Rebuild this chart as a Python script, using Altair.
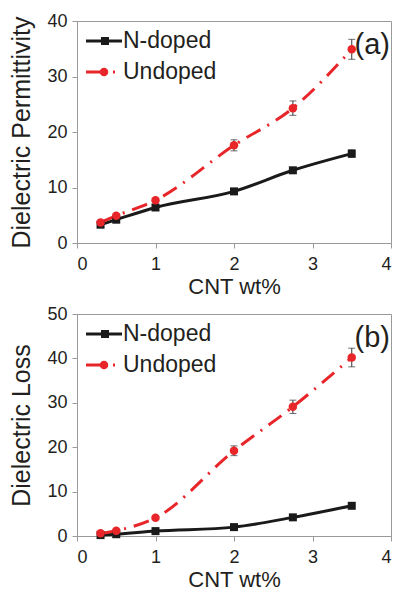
import altair as alt
import pandas as pd

# ---- data ----
cnt_wt = [0.3, 0.5, 1.0, 2.0, 2.75, 3.5]
series_names = ["N-doped", "Undoped"]
panel_tags = ["(a)", "(b)"]
y_titles = ["Dielectric Permittivity", "Dielectric Loss"]
x_ticks = [0, 1, 2, 3, 4]

perm_ndoped = [3.3, 4.2, 6.4, 9.3, 13.1, 16.1]
perm_ndoped_err = [0.2, 0.2, 0.3, 0.3, 0.5, 0.7]
perm_undoped = [3.7, 4.9, 7.7, 17.6, 24.3, 34.9]
perm_undoped_err = [0.2, 0.3, 0.3, 1.0, 1.3, 1.8]

loss_ndoped = [0.2, 0.4, 1.1, 2.0, 4.2, 6.8]
loss_ndoped_err = [0.1, 0.1, 0.1, 0.2, 0.3, 0.4]
loss_undoped = [0.6, 1.2, 4.1, 19.2, 29.1, 40.2]
loss_undoped_err = [0.1, 0.1, 0.2, 1.1, 1.5, 2.1]

RED = "#e8262a"
BLACK = "#1a1a1a"
GRAY = "#9a9a9a"
TEXT = "#231f20"
FONT = "Liberation Sans"
W, H = 314, 222
DASH = [16, 8, 2, 8]


def panel(n_vals, n_err, u_vals, u_err, ymax, ytitle, tag):
    df = pd.DataFrame({
        "x": cnt_wt * 2,
        "y": n_vals + u_vals,
        "err": n_err + u_err,
        "series": [series_names[0]] * len(cnt_wt) + [series_names[1]] * len(cnt_wt),
    })
    df["lo"] = df["y"] - df["err"]
    df["hi"] = df["y"] + df["err"]
    dn = df[df.series == series_names[0]]
    du = df[df.series == series_names[1]]

    xenc = alt.X("x:Q", scale=alt.Scale(domain=[0, 4], nice=False),
                 axis=alt.Axis(values=x_ticks, title="CNT wt%", format="d"))
    yenc = alt.Y("y:Q", scale=alt.Scale(domain=[0, ymax], nice=False),
                 axis=alt.Axis(values=list(range(0, ymax + 1, 10)), title=ytitle))

    line_n = alt.Chart(dn).mark_line(color=BLACK, strokeWidth=3, interpolate="monotone").encode(x=xenc, y=yenc)
    line_u = alt.Chart(du).mark_line(color=RED, strokeWidth=3, strokeDash=DASH,
                                     interpolate="monotone").encode(x=xenc, y=yenc)
    err = alt.Chart(df).mark_errorbar(
        ticks={"size": 7, "thickness": 1, "color": "#333333"},
        rule={"strokeWidth": 1, "color": "#333333"},
    ).encode(x="x:Q", y=alt.Y("lo:Q", title=ytitle), y2="hi:Q")
    pts_n = alt.Chart(dn).mark_point(shape="square", filled=True, size=64, color=BLACK, opacity=1).encode(x=xenc, y=yenc)
    pts_u = alt.Chart(du).mark_point(shape="circle", filled=True, size=72, color=RED, opacity=1).encode(x=xenc, y=yenc)

    # legend drawn by hand
    lg1 = pd.DataFrame({"label": [series_names[0]]})
    lg2 = pd.DataFrame({"label": [series_names[1]]})
    r1 = 20
    r2 = 51
    leg = [
        alt.Chart(lg1).mark_rule(color=BLACK, strokeWidth=3).encode(x=alt.value(9), x2=alt.value(45), y=alt.value(r1)),
        alt.Chart(lg1).mark_point(shape="square", filled=True, size=64, color=BLACK, opacity=1).encode(x=alt.value(28), y=alt.value(r1)),
        alt.Chart(lg1).mark_text(align="left", baseline="middle", fontSize=23, font=FONT, color=TEXT).encode(
            x=alt.value(46), y=alt.value(r1), text="label:N"),
        alt.Chart(lg2).mark_rule(color=RED, strokeWidth=3, strokeDash=[19, 8, 2, 20]).encode(x=alt.value(9), x2=alt.value(45), y=alt.value(r2)),
        alt.Chart(lg2).mark_point(shape="circle", filled=True, size=72, color=RED, opacity=1).encode(x=alt.value(27), y=alt.value(r2)),
        alt.Chart(lg2).mark_text(align="left", baseline="middle", fontSize=23, font=FONT, color=TEXT).encode(
            x=alt.value(46), y=alt.value(r2), text="label:N"),
    ]
    tagdf = pd.DataFrame({"t": [tag]})
    tag_txt = alt.Chart(tagdf).mark_text(align="right", baseline="middle", fontSize=29, font=FONT, color=TEXT).encode(
        x=alt.value(W - 1), y=alt.value(24), text="t:N")

    return alt.layer(line_n, line_u, err, pts_n, pts_u, *leg, tag_txt).properties(width=W, height=H)


top = panel(perm_ndoped, perm_ndoped_err, perm_undoped, perm_undoped_err, 40, y_titles[0], panel_tags[0])
bot = panel(loss_ndoped, loss_ndoped_err, loss_undoped, loss_undoped_err, 50, y_titles[1], panel_tags[1])

chart = alt.vconcat(top, bot, spacing=6).properties(padding={"left": 1, "top": 3, "right": 0, "bottom": 0}).configure_view(
    stroke=GRAY, strokeWidth=1
).configure_axis(
    grid=False, domainColor=GRAY, tickColor=GRAY, tickSize=5, labelFont=FONT, titleFont=FONT,
    labelFontSize=18, labelColor=TEXT, titleColor=TEXT, titleFontWeight="normal", labelPadding=5,
).configure_axisX(titleFontSize=22, titlePadding=3, labelPadding=7).configure_axisY(titleFontSize=25, titlePadding=12)

chart.save("out.html", embed_options={"renderer": "svg", "actions": False})
